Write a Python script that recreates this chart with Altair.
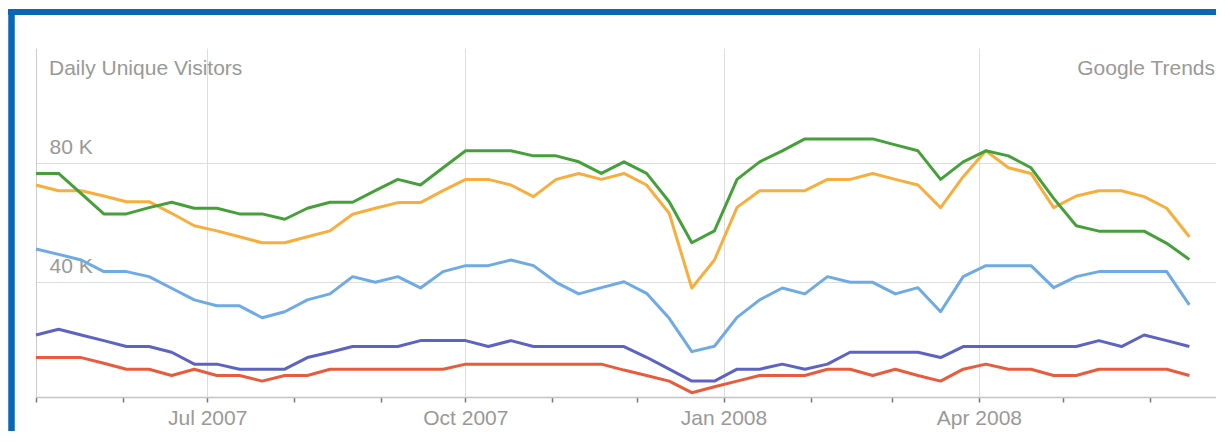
import altair as alt
import pandas as pd

# ---- data (thousands of daily unique visitors) ----
series_names = ["Site 1", "Site 2", "Site 3", "Site 4", "Site 5"]
series_colors = ["#ea5b3c", "#5d63c2", "#6eaae4", "#f8ae3c", "#45a03a"]

red = [14.7, 14.7, 14.7, 12.8, 10.8, 10.8, 8.7, 10.8, 8.7, 8.7, 6.8, 8.7, 8.7, 10.8,
       10.8, 10.8, 10.8, 10.8, 10.8, 12.5, 12.5, 12.5, 12.5, 12.5, 12.5, 12.5, 10.5,
       8.7, 6.8, 2.9, 4.9, 6.8, 8.7, 8.7, 8.7, 10.8, 10.8, 8.7, 10.8,
       8.7, 6.8, 10.8, 12.5, 10.8, 10.8, 8.7, 8.7, 10.8, 10.8, 10.8, 10.8, 8.7]
purple = [22.3, 24.2, 22.3, 20.4, 18.4, 18.4, 16.5, 12.5, 12.5, 10.8, 10.8, 10.8, 14.7, 16.5,
          18.4, 18.4, 18.4, 20.4, 20.4, 20.4, 18.4, 20.4, 18.4, 18.4, 18.4, 18.4, 18.4,
          14.8, 10.8, 6.8, 6.8, 10.8, 10.8, 12.5, 10.8, 12.5, 16.5, 16.5, 16.5,
          16.5, 14.7, 18.4, 18.4, 18.4, 18.4, 18.4, 18.4, 20.4, 18.4, 22.3, 20.4, 18.4]
blue = [51.2, 49.4, 47.5, 43.6, 43.6, 41.9, 38.0, 34.1, 32.1, 32.1, 28.1, 30.1, 34.1, 36.1,
        41.9, 40.0, 41.9, 38.1, 43.6, 45.6, 45.6, 47.5, 45.6, 40.0, 36.1, 38.2, 40.2,
        36.3, 27.9, 16.7, 18.5, 28.2, 34.1, 38.1, 36.1, 41.9, 40.0, 40.0, 36.1,
        38.2, 30.1, 41.9, 45.6, 45.6, 45.6, 38.2, 41.9, 43.6, 43.6, 43.6, 43.6, 32.4]
orange = [72.7, 70.8, 70.8, 69.0, 67.1, 67.1, 63.2, 59.0, 57.3, 55.3, 53.3, 53.3, 55.3, 57.3,
          62.9, 64.9, 66.8, 66.8, 70.8, 74.6, 74.6, 72.7, 68.8, 74.6, 76.6, 74.6, 76.6,
          72.7, 63.2, 38.1, 47.5, 65.2, 70.8, 70.8, 70.8, 74.6, 74.6, 76.6, 74.6,
          72.7, 65.1, 75.5, 84.2, 78.5, 76.6, 65.1, 69.0, 70.8, 70.8, 68.8, 64.9, 55.3]
green = [76.6, 76.6, 69.8, 63.0, 63.0, 65.1, 66.9, 64.9, 64.9, 63.0, 63.0, 61.2, 64.9, 66.9,
         66.9, 70.8, 74.6, 72.7, 78.5, 84.2, 84.2, 84.2, 82.5, 82.5, 80.5, 76.6, 80.5,
         76.6, 67.1, 53.3, 57.3, 74.6, 80.5, 84.2, 88.2, 88.2, 88.2, 88.2, 86.2,
         84.2, 74.6, 80.5, 84.2, 82.5, 78.5, 68.2, 59.0, 57.2, 57.2, 57.2, 53.1, 47.7]

dates = pd.date_range("2007-05-01", "2008-06-15", periods=len(green))

tick_months = [(2007, 5), (2007, 6), (2007, 7), (2007, 8), (2007, 9), (2007, 10),
               (2007, 11), (2007, 12), (2008, 1), (2008, 2), (2008, 3), (2008, 4),
               (2008, 5), (2008, 6)]
y_tick_values = [40, 80]

title_left = "Daily Unique Visitors"
title_right = "Google Trends"

rows = []
for name, vals in zip(series_names, [red, purple, blue, orange, green]):
    for d, v in zip(dates, vals):
        rows.append({"date": d, "visitors": v, "site": name})
df = pd.DataFrame(rows)

FONT = "Liberation Sans"
GREY = "#999999"
FRAME = "#0868b6"

x_enc = alt.X(
    "date:T",
    title=None,
    scale=alt.Scale(domain=[alt.DateTime(year=2007, month=5, date=1),
                            alt.DateTime(year=2008, month=6, date=24, hours=12)]),
    axis=alt.Axis(
        values=[alt.DateTime(year=y, month=m, date=1) for y, m in tick_months],
        labelExpr="month(datum.value) % 3 == 0 ? timeFormat(datum.value, '%b %Y') : ''",
        grid=True,
        gridColor="#dddddd",
        gridOpacity={"condition": {"test": "month(datum.value) % 3 == 0", "value": 1}, "value": 0},
        domainColor="#c4c4c4",
        domainWidth=1.5,
        tickColor="#777777",
        tickSize=5,
        tickWidth=1.5,
        labelFont=FONT,
        labelFontSize=21,
        labelColor=GREY,
        labelPadding=5,
        labelBaseline="top",
        labelOverlap=False,
        labelFlush=False,
        labelBound=False,
    ),
)

y_enc = alt.Y(
    "visitors:Q",
    title=None,
    scale=alt.Scale(domain=[1.45, 118.76], nice=False, zero=False),
    axis=alt.Axis(
        values=y_tick_values,
        labelExpr="datum.value + ' K'",
        ticks=False,
        tickSize=0,
        grid=True,
        gridColor="#dddddd",
        domainColor="#cccccc",
        labelAlign="left",
        labelBaseline="alphabetic",
        labelPadding=-13,
        labelOffset=-10,
        labelFont=FONT,
        labelFontSize=21,
        labelColor=GREY,
        labelFlush=False,
        labelBound=False,
        labelOverlap=False,
    ),
)

lines = alt.Chart(df).mark_line(strokeWidth=3, strokeJoin="round").encode(
    x=x_enc,
    y=y_enc,
    color=alt.Color("site:N", scale=alt.Scale(domain=series_names, range=series_colors), legend=None),
)

one = pd.DataFrame({"t": [0]})
frame_left = alt.Chart(one).mark_rule(color=FRAME, strokeWidth=6.5).encode(
    x=alt.value(-24.5), y=alt.value(-39), y2=alt.value(420))
frame_top = alt.Chart(one).mark_rule(color=FRAME, strokeWidth=6).encode(
    x=alt.value(-28), x2=alt.value(1300), y=alt.value(-36))

txt_left = alt.Chart(pd.DataFrame({"t": [title_left]})).mark_text(
    align="left", baseline="alphabetic", font=FONT, fontSize=21, color=GREY
).encode(text="t:N", x=alt.value(13), y=alt.value(27))
txt_right = alt.Chart(pd.DataFrame({"t": [title_right]})).mark_text(
    align="right", baseline="alphabetic", font=FONT, fontSize=21, color=GREY
).encode(text="t:N", x=alt.value(1179), y=alt.value(27))

chart = alt.layer(lines, txt_left, txt_right, frame_left, frame_top).properties(
    width=1180,
    height=349,
    padding={"left": 28, "top": 40, "right": 0, "bottom": 34},
    autosize=alt.AutoSizeParams(type="none"),
    background="white",
).configure_view(strokeWidth=0)

chart.save("out.html", embed_options={"renderer": "svg", "actions": False})
